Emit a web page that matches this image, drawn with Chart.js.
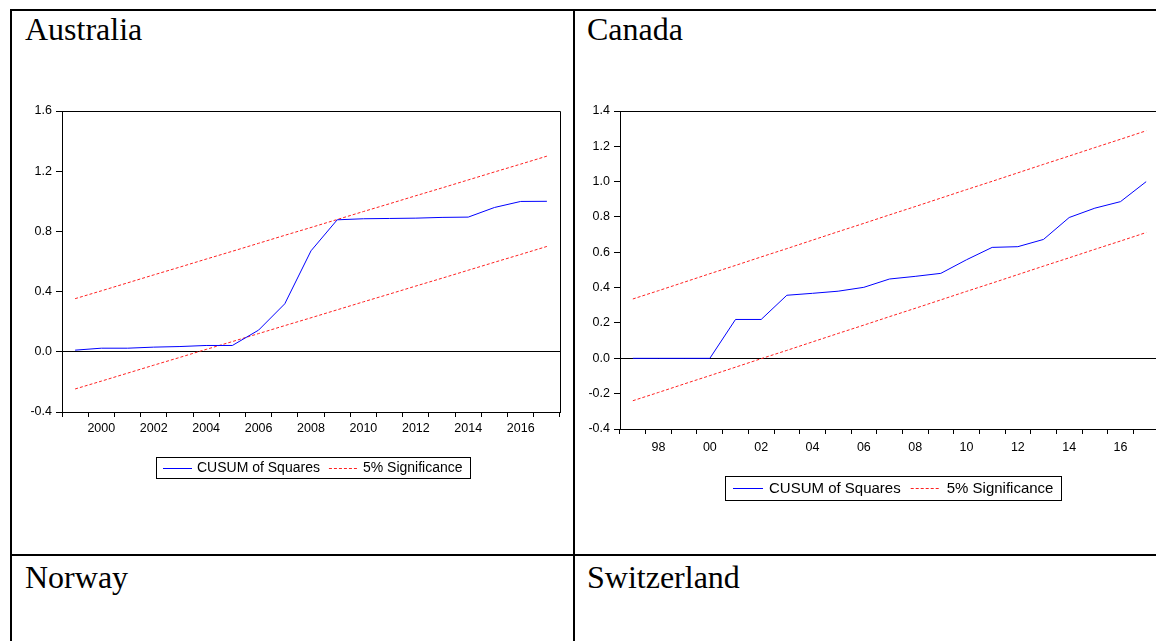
<!DOCTYPE html>
<html>
<head>
<meta charset="utf-8">
<script src="https://cdn.jsdelivr.net/npm/chart.js@4.4.1/dist/chart.umd.min.js"></script>
<style>
  html, body { margin: 0; padding: 0; background: #fff; }
  body { width: 1156px; height: 641px; overflow: hidden; position: relative; }
  .rule { position: absolute; background: #000; }
  .title { position: absolute; font-family: "Liberation Serif", "Times New Roman", serif; font-size: 32px; color: #000; line-height: 1; }
  .box { position: absolute; }
  .box canvas { display: block; }
</style>
</head>
<body>
<!-- table rules -->
<div class="rule" style="left:10px; top:9px; width:1146px; height:2px;"></div>
<div class="rule" style="left:10px; top:9px; width:2px; height:632px;"></div>
<div class="rule" style="left:573px; top:9px; width:2px; height:632px;"></div>
<div class="rule" style="left:10px; top:554px; width:1146px; height:2px;"></div>

<div class="title" style="left:25px; top:13px;">Australia</div>
<div class="title" style="left:587px; top:13px;">Canada</div>
<div class="title" style="left:25px; top:561px;">Norway</div>
<div class="title" style="left:587px; top:561px;">Switzerland</div>

<div class="box" style="left:12px; top:96px; width:558px; height:400px;"><canvas id="aus"></canvas></div>
<div class="box" style="left:576px; top:96px; width:620px; height:420px;"><canvas id="can"></canvas></div>

<script>
// Australia: CUSUM of squares, 1999-2017
const ausYears = ['1999','2000','2001','2002','2003','2004','2005','2006','2007','2008',
                  '2009','2010','2011','2012','2013','2014','2015','2016','2017'];
const ausCusum = [0.011, 0.024, 0.024, 0.031, 0.035, 0.042, 0.042, 0.144, 0.319, 0.671,
                  0.877, 0.884, 0.886, 0.888, 0.893, 0.895, 0.959, 0.999, 1.000];
const ausUpper = [0.353, 0.405, 0.458, 0.511, 0.563, 0.616, 0.668, 0.721, 0.774, 0.826,
                  0.879, 0.932, 0.984, 1.037, 1.089, 1.142, 1.195, 1.247, 1.300];
const ausLower = [-0.247, -0.195, -0.142, -0.089, -0.037, 0.016, 0.068, 0.121, 0.174, 0.226,
                  0.279, 0.332, 0.384, 0.437, 0.489, 0.542, 0.595, 0.647, 0.700];
const ausTicks = [-0.4, 0.0, 0.4, 0.8, 1.2, 1.6];

// Canada: CUSUM of squares, 1997-2017
const canYears = ['1997','1998','1999','2000','2001','2002','2003','2004','2005','2006','2007',
                  '2008','2009','2010','2011','2012','2013','2014','2015','2016','2017'];
const canCusum = [0.000, 0.000, 0.000, 0.000, 0.220, 0.220, 0.357, 0.368, 0.380, 0.402, 0.449,
                  0.464, 0.481, 0.558, 0.628, 0.632, 0.673, 0.797, 0.850, 0.887, 1.000];
const canUpper = [0.336, 0.383, 0.431, 0.479, 0.526, 0.574, 0.621, 0.669, 0.717, 0.764, 0.812,
                  0.859, 0.907, 0.955, 1.002, 1.050, 1.098, 1.145, 1.193, 1.240, 1.288];
const canLower = [-0.240, -0.193, -0.145, -0.098, -0.050, -0.002, 0.045, 0.093, 0.141, 0.188, 0.236,
                  0.283, 0.331, 0.379, 0.426, 0.474, 0.522, 0.569, 0.617, 0.664, 0.712];
const canTicks = [-0.4, -0.2, 0.0, 0.2, 0.4, 0.6, 0.8, 1.0, 1.2, 1.4];

const legendLabels = ['CUSUM of Squares', '5% Significance'];

const BLUE = '#0000ff';
const RED = '#ff2020';
const SANS = '"Liberation Sans", Arial, sans-serif';

// frame around the plot area plus a boxed legend below it
const framePlugin = {
  id: 'evFrame',
  afterDatasetsDraw(chart) {
    const { ctx, chartArea: a } = chart;
    ctx.save();
    ctx.strokeStyle = '#000';
    ctx.lineWidth = 1;
    ctx.setLineDash([]);
    ctx.beginPath();
    ctx.moveTo(Math.round(a.left) + 0.5, Math.round(a.bottom) + 0.5);
    ctx.lineTo(Math.round(a.left) + 0.5, Math.round(a.top) + 0.5);
    ctx.lineTo(Math.round(a.right) + 0.5, Math.round(a.top) + 0.5);
    ctx.lineTo(Math.round(a.right) + 0.5, Math.round(a.bottom) + 0.5);
    ctx.stroke();
    ctx.restore();
  },
  afterDraw(chart, args, opts) {
    const { ctx, chartArea: a } = chart;
    const items = [
      { label: legendLabels[0], color: BLUE, dash: [] },
      { label: legendLabels[1], color: RED, dash: [3, 2] }
    ];
    ctx.save();
    ctx.font = opts.fontSize + 'px ' + SANS;
    const sample = opts.sample, gapS = opts.gapS, gapI = opts.gapI, pad = opts.pad;
    let w = pad * 2;
    items.forEach((it, i) => {
      w += sample + gapS + ctx.measureText(it.label).width + (i ? 0 : gapI);
    });
    w = Math.round(w);
    const h = opts.height;
    const x0 = Math.round((a.left + a.right) / 2 + opts.shift - w / 2);
    const y0 = Math.round(a.bottom + opts.offset);
    ctx.setLineDash([]);
    ctx.strokeStyle = '#000';
    ctx.lineWidth = 1;
    ctx.strokeRect(x0 + 0.5, y0 + 0.5, w, h);
    let x = x0 + pad;
    const cy = y0 + h / 2 + 1;
    items.forEach((it) => {
      ctx.strokeStyle = it.color;
      ctx.lineWidth = 1;
      ctx.setLineDash(it.dash);
      ctx.beginPath();
      ctx.moveTo(x, Math.round(cy) - 0.5);
      ctx.lineTo(x + sample, Math.round(cy) - 0.5);
      ctx.stroke();
      ctx.setLineDash([]);
      x += sample + gapS;
      ctx.fillStyle = '#000';
      ctx.textBaseline = 'middle';
      ctx.fillText(it.label, x, cy);
      x += ctx.measureText(it.label).width + gapI;
    });
    ctx.restore();
  }
};

function makeChart(id, cfg) {
  const datasets = [
    { data: cfg.cusum, borderColor: BLUE, borderWidth: 1 },
    { data: cfg.upper, borderColor: RED, borderWidth: 1, borderDash: [3, 2] },
    { data: cfg.lower, borderColor: RED, borderWidth: 1, borderDash: [3, 2] }
  ];
  datasets.forEach(d => { d.pointRadius = 0; d.tension = 0; d.fill = false; });
  return new Chart(document.getElementById(id), {
    type: 'line',
    data: { labels: cfg.years, datasets },
    plugins: [framePlugin],
    options: {
      responsive: true,
      maintainAspectRatio: false,
      animation: false,
      events: [],
      layout: { padding: cfg.padding },
      plugins: {
        legend: { display: false },
        tooltip: { enabled: false },
        evFrame: cfg.legend
      },
      scales: {
        x: {
          type: 'category',
          offset: true,
          afterFit: s => { s.height = cfg.xHeight; },
          grid: {
            offset: true, drawOnChartArea: false, drawTicks: true,
            tickLength: 5, color: '#000', tickColor: '#000'
          },
          border: { display: true, color: '#000', width: 1 },
          ticks: {
            autoSkip: false, maxRotation: 0, minRotation: 0, padding: cfg.xPad,
            color: '#000', font: { family: SANS, size: cfg.fontSize },
            callback: function (v) {
              const yr = parseInt(this.getLabelForValue(v), 10);
              return yr % 2 === 0 ? cfg.fmtYear(yr) : '';
            }
          }
        },
        y: {
          min: cfg.ticks[0],
          max: cfg.ticks[cfg.ticks.length - 1],
          afterFit: s => { s.width = cfg.yWidth; },
          afterBuildTicks: s => { s.ticks = cfg.ticks.map(v => ({ value: v })); },
          grid: {
            drawOnChartArea: true, drawTicks: true, tickLength: 6,
            color: c => (c.tick && Math.abs(c.tick.value) < 1e-9 ? '#000' : 'rgba(0,0,0,0)'),
            tickColor: '#000'
          },
          border: { display: true, color: '#000', width: 1 },
          ticks: {
            padding: 4, color: '#000',
            font: { family: SANS, size: cfg.fontSize },
            callback: v => Number(v).toFixed(1)
          }
        }
      }
    }
  });
}

makeChart('aus', {
  years: ausYears, cusum: ausCusum, upper: ausUpper, lower: ausLower, ticks: ausTicks,
  fontSize: 12.5, yWidth: 50, xHeight: 25, xPad: 4,
  padding: { top: 15, right: 10, left: 0, bottom: 59 },
  fmtYear: y => String(y),
  legend: { fontSize: 14, offset: 45, height: 21, shift: 2, pad: 7, sample: 29, gapS: 5, gapI: 9 }
});

makeChart('can', {
  years: canYears, cusum: canCusum, upper: canUpper, lower: canLower, ticks: canTicks,
  fontSize: 12.5, yWidth: 44, xHeight: 25, xPad: 6,
  padding: { top: 15, right: 37, left: 0, bottom: 62 },
  fmtYear: y => String(y).slice(2),
  legend: { fontSize: 15, offset: 47, height: 24, shift: 3, pad: 8, sample: 30, gapS: 6, gapI: 10 }
});
</script>
</body>
</html>
